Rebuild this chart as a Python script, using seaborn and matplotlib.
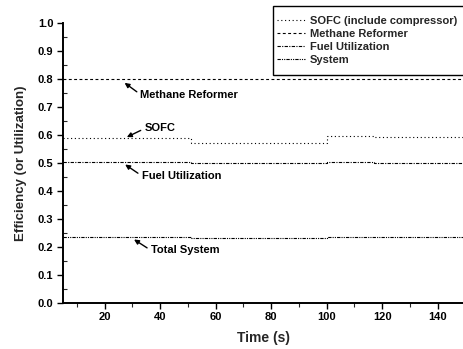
import matplotlib
matplotlib.use("Agg")
import matplotlib.pyplot as plt
import pandas as pd
import seaborn as sns
from matplotlib.patches import Rectangle
from matplotlib.ticker import MultipleLocator, FormatStrFormatter

# Breakpoints of the piecewise-constant responses (time in s)
time_s = [5, 51, 100, 117, 150]
sofc = [0.588, 0.571, 0.596, 0.593, 0.593]
methane_reformer = [0.800, 0.800, 0.800, 0.800, 0.800]
fuel_utilization = [0.503, 0.501, 0.502, 0.500, 0.500]
total_system = [0.234, 0.230, 0.236, 0.234, 0.234]

series_names = ["SOFC (include compressor)", "Methane Reformer",
                "Fuel Utilization", "System"]
series_values = [sofc, methane_reformer, fuel_utilization, total_system]
line_styles = [(0, (1, 2.4)), (0, (2.6, 2.2)), (0, (3, 1.2, 1, 1.2)),
               (0, (3, 1, 1, 1, 1, 1))]

sns.set_theme(style="ticks")
plt.rcParams["font.family"] = ["Liberation Sans", "DejaVu Sans"]
plt.rcParams["font.weight"] = "bold"

W, H = 464, 349
fig = plt.figure(figsize=(W / 100, H / 100), dpi=100)
ax = fig.add_axes([63 / W, 46.3 / H, (W - 63) / W, 279.7 / H])

for name, vals, ls in zip(series_names, series_values, line_styles):
    df = pd.DataFrame({"Time": time_s, "Value": vals})
    sns.lineplot(data=df, x="Time", y="Value", ax=ax, color="black",
                 linewidth=0.8, linestyle=ls, drawstyle="steps-post",
                 estimator=None, label=name)

ax.set_xlim(5, 149.5)
ax.set_ylim(0, 1.0)
ax.xaxis.set_major_locator(MultipleLocator(20))
ax.xaxis.set_minor_locator(MultipleLocator(10))
ax.yaxis.set_major_locator(MultipleLocator(0.1))
ax.yaxis.set_minor_locator(MultipleLocator(0.05))
ax.yaxis.set_major_formatter(FormatStrFormatter("%.1f"))
ax.tick_params(axis="both", which="major", labelsize=8, length=4,
               width=1.0, direction="out", colors="black", pad=3)
ax.tick_params(axis="y", which="minor", length=3, width=0.8, direction="in")
ax.tick_params(axis="x", which="minor", length=3, width=0.8, direction="out")
for lab in ax.get_xticklabels() + ax.get_yticklabels():
    lab.set_fontweight("bold")

for side in ("top", "right"):
    ax.spines[side].set_visible(False)
for side in ("left", "bottom"):
    ax.spines[side].set_linewidth(1.4)
    ax.spines[side].set_color("black")

ax.set_xlabel("Time (s)", fontsize=10, fontweight="bold", labelpad=6)
ax.set_ylabel("Efficiency (or Utilization)", fontsize=9.5,
              fontweight="bold", labelpad=8)

# Callouts pointing at each curve
callouts = [
    ("Methane Reformer", (27.2, 0.786), (31.6, 0.754), (32.6, 0.742)),
    ("SOFC", (28.0, 0.592), (33.0, 0.616), (34.4, 0.624)),
    ("Fuel Utilization", (27.4, 0.494), (32.0, 0.463), (33.6, 0.453)),
    ("Total System", (30.6, 0.226), (35.3, 0.196), (36.8, 0.189)),
]
for text, head, tail, pos in callouts:
    ax.annotate("", xy=head, xytext=tail,
                arrowprops=dict(arrowstyle="-|>", color="black", lw=1.0,
                                mutation_scale=7, shrinkA=0, shrinkB=0))
    ax.text(pos[0], pos[1], text, fontsize=8, fontweight="bold",
            ha="left", va="center", color="black")

# Legend box, open to the right edge of the figure
box = Rectangle((273 / W, 1 - 75 / H), 0.5, 69 / H, transform=fig.transFigure,
                facecolor="white", edgecolor="black", linewidth=1.0,
                zorder=4, clip_on=False)
ax.add_patch(box)

leg = ax.legend(loc="upper left", bbox_to_anchor=(277 / W, 1 - 16 / H),
                bbox_transform=fig.transFigure, frameon=False,
                fontsize=8, handlelength=2.5, handletextpad=0.45,
                labelspacing=0.27, borderpad=0, borderaxespad=0)
leg.set_zorder(5)
for t in leg.get_texts():
    t.set_fontweight("bold")

fig.savefig("out.png", dpi=100)
